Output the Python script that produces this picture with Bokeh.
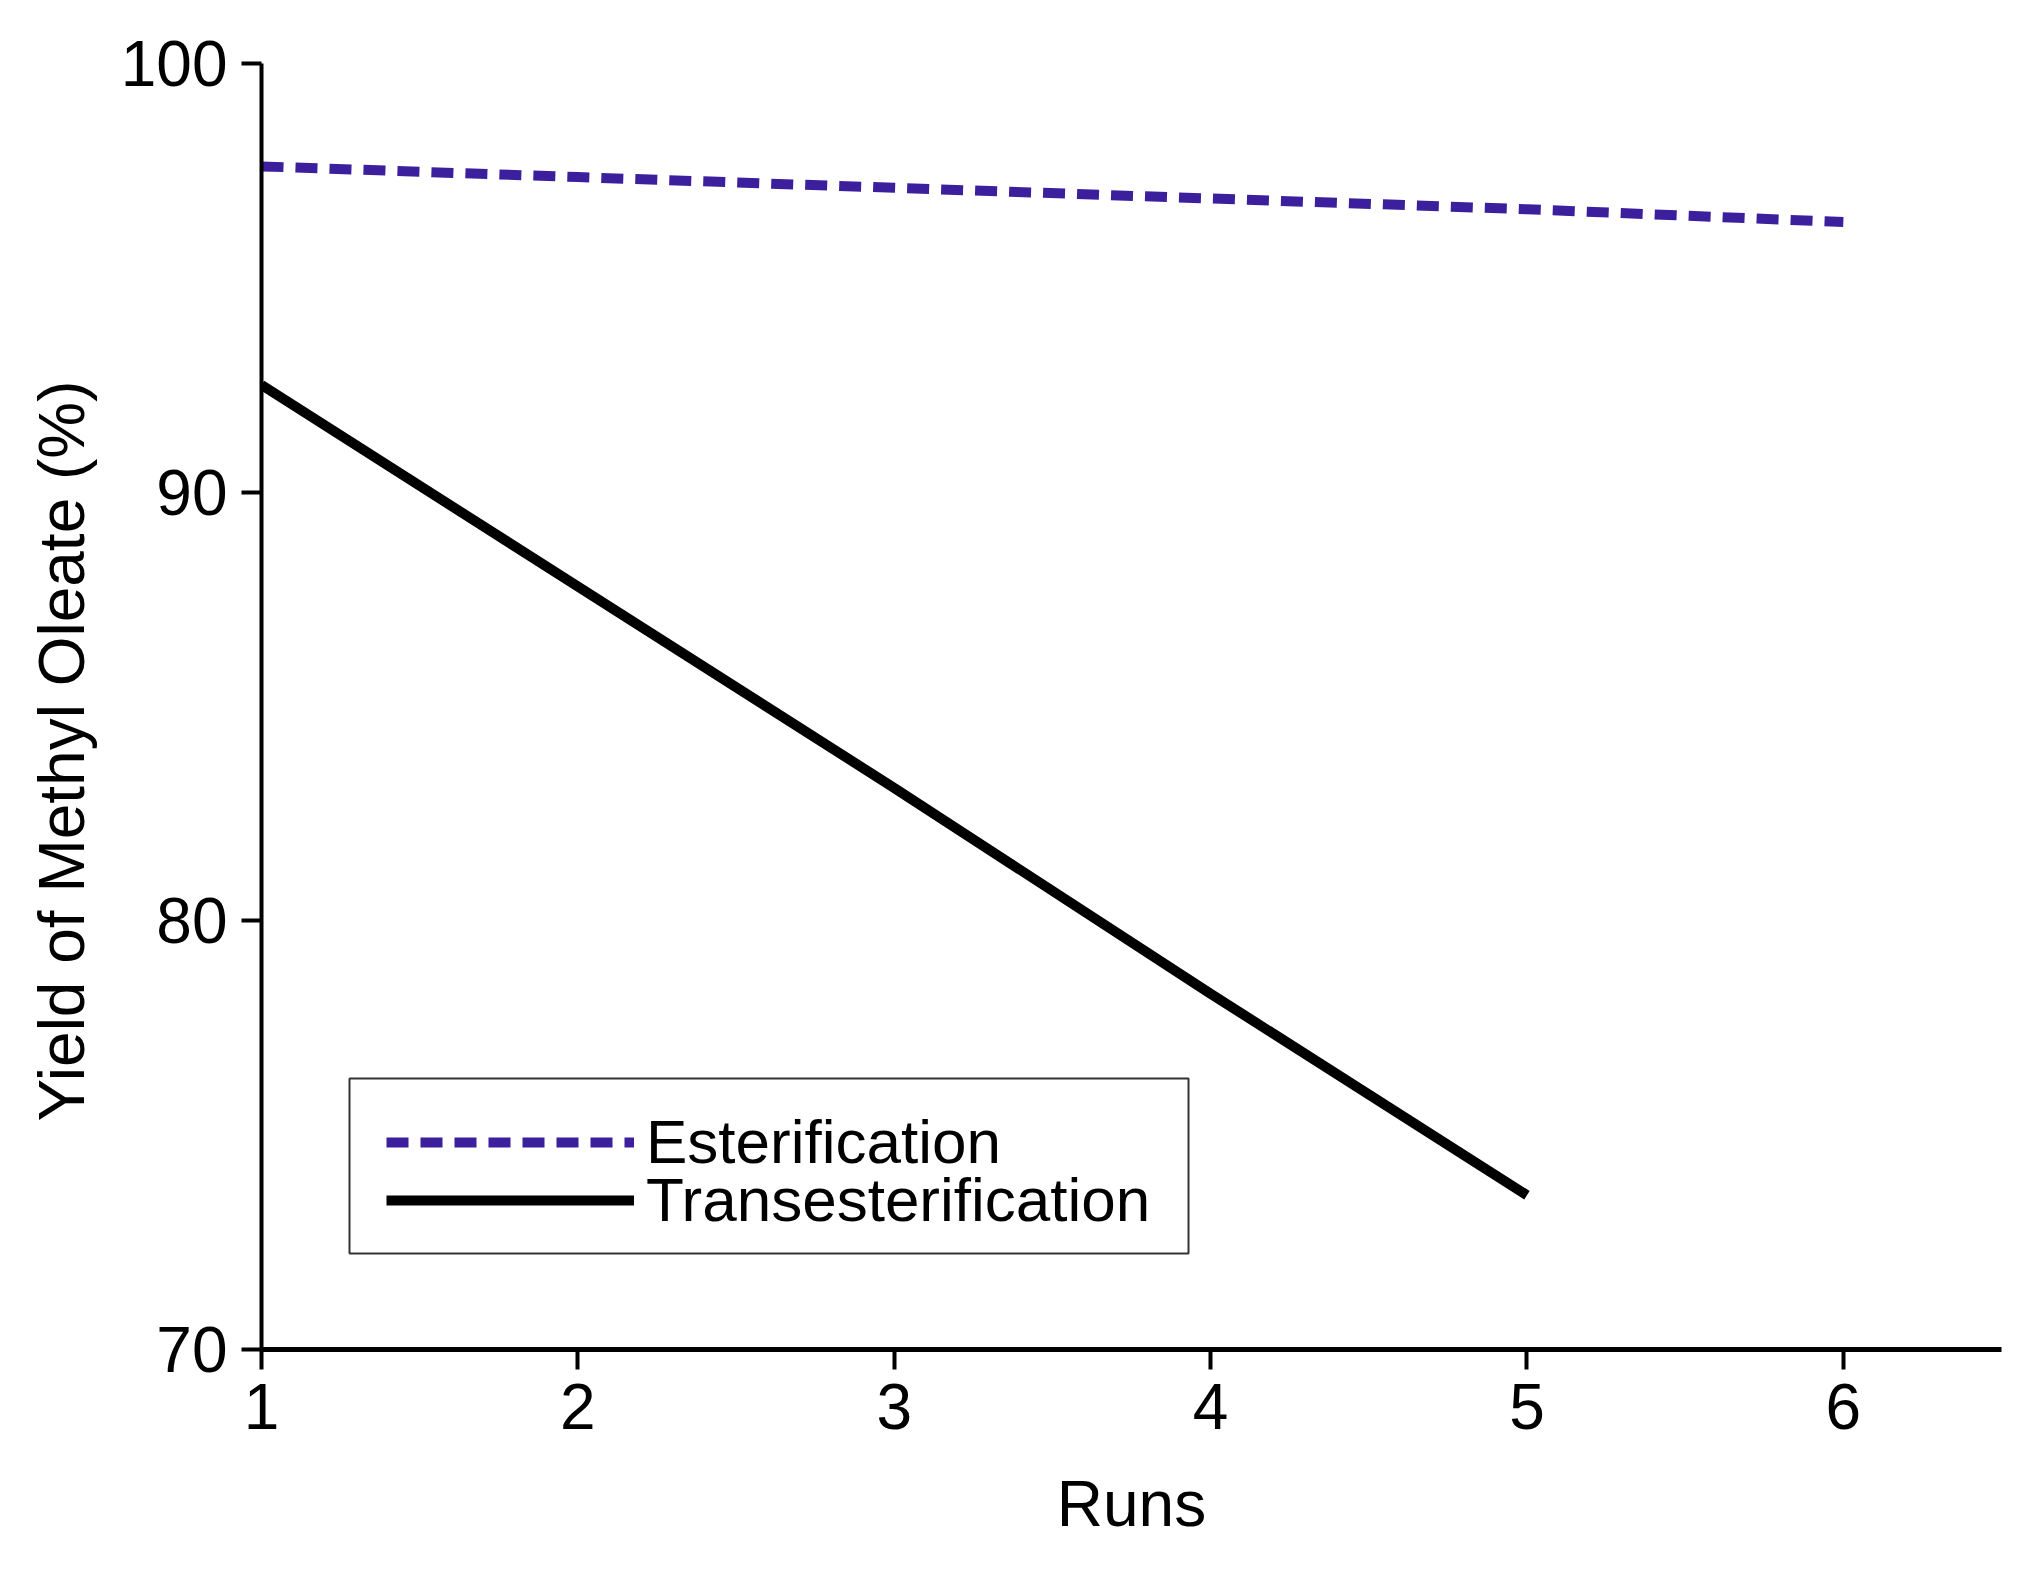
from bokeh.plotting import figure
from bokeh.models import Range1d, Legend, LegendItem, FixedTicker, BoxAnnotation
from bokeh.embed import file_html
from bokeh.resources import INLINE

runs_est = [1, 2, 3, 4, 5, 6]
yield_est = [97.6, 97.35, 97.1, 96.85, 96.6, 96.3]
runs_trans = [1, 2, 3, 4, 5]
yield_trans = [92.5, 87.8, 83.1, 78.3, 73.6]
x_ticks = [1, 2, 3, 4, 5, 6]
y_ticks = [70, 80, 90, 100]

FONT = "Liberation Sans"

p = figure(width=2024, height=1562, output_backend="svg", toolbar_location=None,
           x_range=Range1d(1, 6.5), y_range=Range1d(70, 100),
           min_border_left=261, min_border_top=63, min_border_right=23, min_border_bottom=213)
p.outline_line_color = None
p.xgrid.grid_line_color = None
p.ygrid.grid_line_color = None
p.background_fill_color = "white"
p.border_fill_color = "white"

r1 = p.line(runs_est, yield_est, line_color="#3b1f9c", line_width=10, line_dash="22 12")
r2 = p.line(runs_trans, yield_trans, line_color="black", line_width=10)

for ax in (p.xaxis[0], p.yaxis[0]):
    ax.axis_line_color = "black"
    ax.major_tick_line_color = "black"
    ax.major_tick_line_width = 4
    ax.minor_tick_line_color = None
    ax.major_tick_in = 0
    ax.major_tick_out = 20
    ax.major_label_text_font = FONT
    ax.major_label_text_font_size = "64px"
    ax.major_label_text_color = "black"
    ax.axis_label_text_font = FONT
    ax.axis_label_text_font_size = "64px"
    ax.axis_label_text_font_style = "normal"
    ax.axis_label_text_color = "black"

p.xaxis[0].axis_line_width = 5
p.yaxis[0].axis_line_width = 4
p.xaxis[0].ticker = FixedTicker(ticks=x_ticks)
p.yaxis[0].ticker = FixedTicker(ticks=y_ticks)
p.xaxis[0].axis_label = "Runs"
# trailing no-break spaces nudge the rotated title slightly below the frame centre
p.yaxis[0].axis_label = "Yield of Methyl Oleate (%)" + "\u00a0" * 5
p.xaxis[0].major_label_standoff = 14
p.yaxis[0].major_label_standoff = 14
p.xaxis[0].axis_label_standoff = 36
p.yaxis[0].axis_label_standoff = 20

# legend frame (screen units, relative to the plot frame's bottom-left)
box = BoxAnnotation(left=88, right=927, top=271, bottom=96,
                    left_units="screen", right_units="screen",
                    top_units="screen", bottom_units="screen",
                    fill_color="white", fill_alpha=1,
                    line_color="#333333", line_width=2, line_alpha=1)
p.add_layout(box)


def make_legend(item, loc):
    lg = Legend(items=[item], location=loc)
    lg.label_text_font = FONT
    lg.label_text_font_size = "62px"
    lg.label_text_color = "black"
    lg.glyph_width = 248
    lg.glyph_height = 50
    lg.label_standoff = 12
    lg.spacing = 0
    lg.padding = 0
    lg.margin = 0
    lg.border_line_color = None
    lg.background_fill_alpha = 0
    return lg


p.add_layout(make_legend(LegendItem(label="Esterification", renderers=[r1]), (125, 172)), "center")
p.add_layout(make_legend(LegendItem(label="Transesterification", renderers=[r2]), (125, 114)), "center")

open("out.html", "w").write(file_html(p, INLINE))
